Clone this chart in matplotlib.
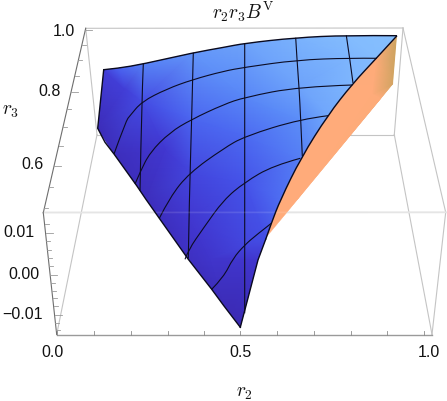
import matplotlib.pyplot as plt
from matplotlib.colors import LinearSegmentedColormap
from matplotlib.patches import PathPatch, Polygon
from matplotlib.path import Path

plt.rcParams['mathtext.fontset'] = 'cm'

# everything in pixel positions, the axes span the whole image
W, H = 447, 402

# box edges
box_light = [[(85.7, 29.3), (403, 29)], [(97, 135.7), (394.3, 135.7)],
             [(85.7, 29.3), (97, 135.7)], [(97, 135.7), (56.7, 335.5)],
             [(403, 29), (394.3, 135.7)], [(394.3, 135.7), (432, 335.5)],
             [(403, 29), (445.7, 213.3)], [(445.7, 213.3), (432, 335.5)]]
r3_axis = [(85.7, 29.3), (43.3, 213.7)]
z_axis = [(43.3, 213.7), (56.7, 335.5)]
r2_axis = [(56.7, 335.5), (432, 335.5)]
front_line = [(43.3, 213.5), (445.7, 213.3)]

# ticks
r2_ticks = [57, 94, 130.7, 167.7, 204, 240.3, 277.3, 314, 350.7, 387.3, 424.3]
r2_labels = ['0.0', '0.5', '1.0']
r2_label_x = [52.7, 240.3, 428.7]
r3_tick_y = [30.7, 45.7, 60.7, 76.7, 93.3, 110.3, 128.3, 146.7, 166.7, 187.7, 209.3]
r3_major = [30.7, 93.3, 166.7]
r3_labels = ['1.0', '0.8', '0.6']
r3_label_x = [64, 50, 33]
r3_label_y = [31, 92, 165]
z_tick_y = [225, 234, 242.3, 250.7, 259, 267.3, 275.7, 284, 291.7, 299.3, 307.3, 315.7, 324, 330.7]
z_major = [234, 275.7, 315.7]
z_labels = ['0.01', '0.00', '\u22120.01']
z_label_x = [19, 24, 22.5]
z_label_y = [232.7, 274.3, 314.3]

# surface outline
top_edge = [(103.7, 70.7), (118, 69.3), (143.3, 65), (193.3, 53.7), (224, 48.3), (244.7, 44.3),
            (295.7, 38.7), (346.3, 36.3), (397, 36.7)]
right_upper = [(397, 36.7), (376.3, 59.3), (352.3, 85), (328, 116), (301.3, 158.3), (280.3, 201),
               (271.3, 224.3), (265.7, 240.3)]
right_lower = [(265.7, 240.3), (258, 261), (240.3, 328.3)]
left_edge = [(240.3, 328.3), (224, 307), (211.7, 290.3), (188.3, 260.3), (159.3, 219.3),
             (145.7, 200), (136.7, 186.7), (114, 155), (105, 143.3), (97.7, 129.3), (103.7, 70.7)]

# mesh lines of constant r2
r2_lines = [
    [(143.3, 65), (141.7, 102.7), (140, 191.7)],
    [(193.3, 53.7), (191.7, 120), (189.3, 200), (188.3, 259.3)],
    [(244.7, 44.3), (244.7, 201), (244.7, 314.3)],
    [(295.7, 38.7), (297, 61), (299, 87.7), (300.7, 120), (302.3, 157)],
    [(346.3, 36.3), (349.7, 59), (353, 84)],
]
# mesh lines of constant r3
r3_lines = [
    [(377, 59.3), (349.7, 59), (297, 61), (244.7, 68.3), (223.5, 72.2), (192.3, 80.7), (166.7, 90),
     (141.7, 102.7), (130, 116.7), (126, 121.7), (114, 155)],
    [(352.3, 86), (299, 87.7), (244.7, 98.3), (223.5, 105.5), (191, 120.7), (170, 133.3), (150, 153.3),
     (140, 173.3), (135, 185)],
    [(328, 116.7), (300.7, 120), (244.7, 137.3), (223.5, 149.5), (189.3, 174), (170, 198), (159.3, 219.3)],
    [(300.3, 159.3), (273, 166.7), (244.7, 183.3), (223.5, 201), (203.3, 229.3), (188.3, 251), (185, 260.3)],
    [(271.3, 224.3), (256.3, 236), (244.7, 246), (233, 259.3), (223.5, 278.3), (211.7, 290.3)],
]

# surface brightness at points on it, 0 dark to 1 light
shade_x = [103.7, 118, 143.3, 193.3, 244.7, 295.7, 346.3, 397,
           97.7, 114, 145.7, 188.3, 240.3, 224,
           125, 141.7, 191, 244.7, 299, 350, 377,
           165, 192, 244.7, 300, 352,
           190, 244.7, 300, 328,
           210, 244.7, 280, 265.7, 258]
shade_y = [70.7, 69.3, 65, 53.7, 44.3, 38.7, 36.3, 36.7,
           129.3, 155, 200, 260.3, 328.3, 307,
           90, 102.7, 120, 98.3, 87.7, 59, 59.3,
           150, 174, 137.3, 120, 85,
           220, 183.3, 159.3, 116,
           260, 246, 201, 240.3, 261]
shade_v = [0.30, 0.55, 0.70, 0.80, 0.86, 0.93, 0.98, 1.0,
           0.08, 0.10, 0.10, 0.14, 0.04, 0.07,
           0.30, 0.40, 0.56, 0.72, 0.86, 0.95, 0.98,
           0.24, 0.36, 0.58, 0.76, 0.95,
           0.24, 0.46, 0.68, 0.88,
           0.20, 0.36, 0.60, 0.42, 0.22]

# orange side wall
wall_outer = [(397, 36.7), (393, 85), (298, 200), (266.3, 238.3)]
wall_x = [397, 393, 376.3, 352.3, 328, 301.3, 280.3, 265.7, 298, 350, 388, 381, 372]
wall_y = [36.7, 85, 59.3, 85, 116, 158.3, 201, 240.3, 200, 127, 60, 99.5, 95]
wall_v = [0.0, 0.1, 0.95, 1.0, 1.0, 1.0, 1.0, 1.0, 1.0, 1.0, 0.3, 0.95, 1.0]

blue = LinearSegmentedColormap.from_list('surf', ['#3a27ad', '#4138d2', '#4658ee', '#5a8cf8', '#86c0ff'])
orange = LinearSegmentedColormap.from_list('wall', ['#cda35e', '#e8a873', '#ffab7a'])


def smooth(points):
    # quadratic curve with the read points as control points
    verts = [points[0]]
    codes = [Path.MOVETO]
    for i in range(1, len(points) - 1):
        nxt = points[i + 1]
        if i < len(points) - 2:
            nxt = ((points[i][0] + nxt[0]) / 2, (points[i][1] + nxt[1]) / 2)
        verts += [points[i], nxt]
        codes += [Path.CURVE3, Path.CURVE3]
    return Path(verts, codes)


def flat(points):
    return [tuple(p) for p in smooth(points).to_polygons(closed_only=False)[0]]


fig = plt.figure(figsize=(W / 100, H / 100), dpi=100)
ax = fig.add_axes([0, 0, 1, 1])
ax.set_xlim(0, W)
ax.set_ylim(H, 0)
ax.axis('off')

for seg in box_light:
    ax.plot(*zip(*seg), color='#c4c4c4', lw=0.8, zorder=1)
ax.plot(*zip(*r3_axis), color='#6e6e6e', lw=0.8, zorder=2)
ax.plot(*zip(*z_axis), color='#6e6e6e', lw=0.8, zorder=2)
ax.plot(*zip(*r2_axis), color='#9a9a9a', lw=1.0, zorder=2)
ax.plot(*zip(*front_line), color='#e2e2e2', lw=1.3, zorder=1.5)

# tick marks
for x in r2_ticks:
    ax.plot([x, x], [335.5, 332], color='#8a8a8a', lw=0.6, zorder=2)
for y in r3_tick_y:
    x0 = 85.7 + (y - 29.3) * (43.3 - 85.7) / (213.7 - 29.3)
    ax.plot([x0, x0 + (7 if y in r3_major else 4)], [y, y], color='#9a9a9a', lw=0.6, zorder=2)
for y in z_tick_y:
    x0 = 43.3 + (y - 213.7) * (56.7 - 43.3) / (335.5 - 213.7)
    ax.plot([x0, x0 + (7 if y in z_major else 4)], [y, y], color='#9a9a9a', lw=0.6, zorder=2)

upper = flat(right_upper)
top = flat(top_edge)

# orange wall, clipped to its outline
wall_clip = Polygon(upper + wall_outer[::-1], closed=True, transform=ax.transData, fc='none', ec='none')
ax.add_patch(wall_clip)
wall = ax.tripcolor(wall_x, wall_y, wall_v, shading='gouraud', cmap=orange, vmin=0, vmax=1, zorder=3)
wall.set_clip_path(wall_clip)

# blue surface, clipped to its outline
outline = top + upper[1:] + right_lower[1:] + left_edge[1:-1]
surf_clip = Polygon(outline, closed=True, transform=ax.transData, fc='none', ec='none')
ax.add_patch(surf_clip)
surf = ax.tripcolor(shade_x, shade_y, shade_v, shading='gouraud', cmap=blue, vmin=0, vmax=1, zorder=4)
surf.set_clip_path(surf_clip)

for line in r2_lines + r3_lines:
    ax.add_patch(PathPatch(smooth(line), fc='none', ec='#0c0c24', lw=0.8, zorder=5))
for edge in [top_edge, right_upper]:
    ax.add_patch(PathPatch(smooth(edge), fc='none', ec='#0a0a1e', lw=1.0, zorder=6))
for edge in [right_lower, left_edge]:
    ax.plot(*zip(*edge), color='#0a0a1e', lw=1.0, zorder=6, solid_joinstyle='round')

# the box edge shows faintly through the surface
ax.plot(*zip(*front_line), color='#ffffff', alpha=0.12, lw=1.2, zorder=5)

# texts
tick_font = dict(family='Liberation Sans', fontsize=11.5, color='#111111', ha='center', va='center')
for x, t in zip(r2_label_x, r2_labels):
    ax.text(x, 353, t, **tick_font)
for x, y, t in zip(r3_label_x, r3_label_y, r3_labels):
    ax.text(x, y, t, **tick_font)
for x, y, t in zip(z_label_x, z_label_y, z_labels):
    ax.text(x, y, t, **tick_font)

math_font = dict(fontsize=14, color='#111111', ha='center', va='center')
ax.text(243.5, 12, r'$r_2r_3B^{\mathrm{V}}$', **math_font)
ax.text(11, 111, r'$r_3$', **math_font)
ax.text(244, 393, r'$r_2$', **math_font)

fig.savefig('out.png', dpi=100)
